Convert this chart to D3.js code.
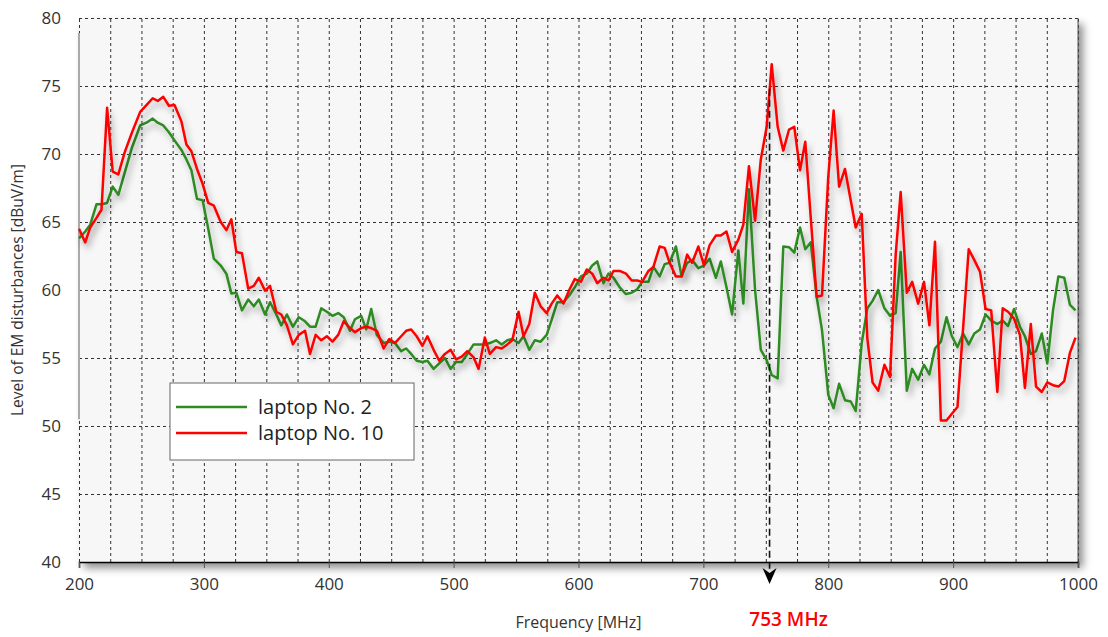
<!DOCTYPE html>
<html>
<head>
<meta charset="utf-8">
<script src="https://cdn.jsdelivr.net/npm/d3@7"></script>
<style>
  body { margin: 0; background: #fff; }
  svg { display: block; font-family: "Open Sans", "Noto Sans", sans-serif; }
</style>
</head>
<body>
<svg class="em-chart"></svg>
<script>
'use strict';

// measured frequencies (MHz), shared by both laptops
var freqs = [200, 205, 209, 214, 218, 222.5, 227, 231.5, 236.5, 242.5, 249, 254, 259, 263, 267.5, 272, 276.5, 282, 286, 290,
    294.5, 299, 303.5, 308, 313.5, 318, 322, 326, 330.5, 335.5, 340, 344, 349, 353, 358, 362, 366.5, 371.3, 376, 381,
    385, 389.5, 394, 398.5, 403, 407.6, 412, 417, 421, 426, 430, 434, 438.5, 444, 448.5, 453, 458, 462, 466, 470.4,
    475, 479, 484, 488.5, 493, 497.6, 502, 506.5, 511, 516, 520, 525, 529, 534, 538.5, 543, 547, 552, 556, 560.6,
    565, 569.7, 574.5, 578.5, 583, 588, 592.6, 597, 602, 606.6, 611, 615, 620, 624, 628, 633, 638, 642.6, 647, 651,
    656, 660, 665, 669, 673, 678, 682.6, 687, 691, 696, 700.5, 705, 710, 714, 718.5, 723, 728, 732, 736.5, 741.4,
    746, 750.7, 754.7, 759.5, 764, 768.6, 772.8, 777.4, 781.6, 786, 790.7, 795, 800, 804.3, 808.7, 813.4, 818, 822, 826.8, 831.3,
    835.5, 840, 845, 849.5, 854, 858, 862.9, 867.2, 872, 876.7, 881, 885.5, 890.2, 894.7, 899, 903.5, 908, 912.5, 917, 921.5,
    926, 930.5, 935.4, 939.7, 944, 948.8, 953.5, 957.5, 962.2, 966.4, 971, 975.4, 980, 984.3, 989, 993.6, 998];

var laptop2 = [63.8, 64.3, 64.8, 66.3, 66.3, 66.4, 67.6, 67.0, 68.6, 70.5, 72.1, 72.3, 72.6, 72.3, 72.1, 71.6, 71.0, 70.3, 69.6, 68.8,
    66.7, 66.6, 64.5, 62.3, 61.8, 61.2, 59.75, 59.8, 58.5, 59.3, 58.8, 59.3, 58.2, 59.1, 58.2, 57.4, 58.2, 57.3, 58.0, 57.7,
    57.3, 57.3, 58.65, 58.4, 58.1, 58.3, 58.0, 57.0, 57.85, 58.1, 57.1, 58.6, 56.7, 56.1, 56.2, 56.1, 55.5, 55.7, 55.3, 54.8,
    54.7, 54.8, 54.2, 54.6, 55.0, 54.2, 54.7, 54.7, 55.3, 56.0, 56.0, 56.0, 56.1, 56.3, 56.0, 56.3, 56.4, 56.1, 56.6, 55.6,
    56.3, 56.2, 56.7, 57.8, 59.1, 59.1, 59.6, 60.2, 61.0, 61.2, 61.8, 62.1, 60.5, 61.2, 60.9, 60.2, 59.7, 59.8, 60.05, 60.6,
    60.6, 61.7, 61.0, 61.9, 62.0, 63.2, 61.0, 62.0, 62.2, 61.6, 61.8, 62.3, 60.9, 62.1, 60.2, 58.2, 62.9, 59.0, 67.4, 60.0,
    55.6, 54.85, 53.75, 53.5, 63.2, 63.15, 62.75, 64.6, 63.0, 63.5, 59.5, 57.05, 52.3, 51.3, 53.1, 51.9, 51.8, 51.1, 56.1, 58.65,
    59.2, 60.0, 58.65, 58.1, 58.3, 62.8, 52.6, 54.2, 53.4, 54.5, 53.8, 55.7, 56.2, 58.0, 56.6, 55.8, 56.8, 56.0, 56.8, 57.1,
    58.2, 57.75, 57.5, 57.75, 57.35, 58.6, 57.3, 56.6, 55.3, 55.5, 56.8, 54.6, 58.5, 61.0, 60.9, 58.9, 58.5];

var laptop10 = [64.5, 63.5, 64.6, 65.3, 65.9, 73.4, 68.7, 68.5, 70.1, 71.6, 73.1, 73.6, 74.1, 73.9, 74.2, 73.55, 73.6, 72.4, 70.7, 70.2,
    68.9, 67.8, 66.4, 66.2, 65.0, 64.4, 65.2, 62.8, 62.7, 60.1, 60.3, 60.9, 59.95, 60.3, 58.4, 58.2, 57.4, 56.0, 56.7, 57.0,
    55.3, 56.7, 56.3, 56.6, 56.2, 56.7, 57.7, 57.2, 56.9, 57.2, 57.3, 57.2, 57.0, 55.7, 56.4, 56.1, 56.6, 57.0, 57.1, 56.6,
    55.9, 56.6, 55.6, 54.8, 55.3, 55.6, 54.9, 55.1, 55.5, 55.05, 54.2, 56.5, 55.3, 55.8, 55.7, 56.0, 56.3, 58.4, 56.6, 57.5,
    59.8, 58.8, 58.3, 59.0, 59.6, 59.0, 60.0, 60.8, 60.6, 61.5, 61.2, 60.5, 60.9, 60.7, 61.4, 61.4, 61.2, 60.7, 60.7, 60.6,
    61.4, 61.7, 63.2, 63.1, 62.0, 61.0, 61.0, 62.6, 62.0, 63.2, 61.8, 63.3, 64.0, 64.0, 64.3, 62.8, 63.7, 64.8, 69.1, 65.1,
    69.6, 72.0, 76.6, 72.0, 70.25, 71.8, 72.0, 68.8, 70.9, 65.3, 59.5, 59.6, 68.3, 73.2, 67.6, 68.9, 66.6, 64.6, 65.6, 56.45,
    53.2, 52.6, 54.5, 53.6, 62.6, 67.2, 59.8, 60.6, 59.0, 60.6, 57.4, 63.55, 50.4, 50.4, 50.9, 51.4, 57.2, 63.0, 62.2, 61.35,
    58.6, 58.5, 52.5, 58.65, 58.4, 57.9, 56.7, 52.8, 57.5, 52.9, 52.5, 53.2, 53.0, 52.9, 53.3, 55.4, 56.5];

var xTicks = [200, 300, 400, 500, 600, 700, 800, 900, 1000];
var yTicks = [40, 45, 50, 55, 60, 65, 70, 75, 80];
var seriesNames = ['laptop No. 2', 'laptop No. 10'];
var seriesColors = ['#2e8b24', '#ff0000'];
var markerFreq = 753;

var drawChart = function() {
    var svgWidth = 1108,
        svgHeight = 637,
        margin = { top: 18, right: 30, bottom: 75, left: 79 },
        width = svgWidth - margin.left - margin.right,
        height = svgHeight - margin.top - margin.bottom;

    var svg = d3.select('svg.em-chart')
        .attr('width', svgWidth)
        .attr('height', svgHeight);

    var defs = svg.append('defs');
    var plotShadow = defs.append('filter').attr('id', 'plot-shadow')
        .attr('x', '-5%').attr('y', '-5%').attr('width', '115%').attr('height', '120%');
    plotShadow.append('feDropShadow').attr('dx', 5).attr('dy', 6).attr('stdDeviation', 4)
        .attr('flood-color', '#000').attr('flood-opacity', 0.45);
    var lineShadow = defs.append('filter').attr('id', 'line-shadow')
        .attr('x', '-5%').attr('y', '-10%').attr('width', '115%').attr('height', '130%');
    lineShadow.append('feDropShadow').attr('dx', 3).attr('dy', 5).attr('stdDeviation', 3)
        .attr('flood-color', '#000').attr('flood-opacity', 0.3);

    var xScale = d3.scaleLinear().domain([200, 1000]).range([margin.left, margin.left + width]);
    var yScale = d3.scaleLinear().domain([40, 80]).range([margin.top + height, margin.top]);

    // plot background
    svg.append('rect')
        .attr('x', xScale(200)).attr('y', yScale(80))
        .attr('width', xScale(1000) - xScale(200)).attr('height', yScale(40) - yScale(80))
        .attr('fill', '#f7f7f7')
        .attr('filter', 'url(#plot-shadow)');

    // grid
    var gridX = d3.axisBottom(xScale).tickValues(d3.range(200, 1001, 25))
        .tickSize(-(yScale(40) - yScale(80))).tickFormat('');
    svg.append('g').attr('class', 'grid-x')
        .attr('transform', 'translate(0,' + yScale(40) + ')')
        .call(gridX)
        .call(function(g) { g.select('.domain').remove(); })
        .selectAll('line')
        .attr('stroke', '#333').attr('stroke-width', 1).attr('stroke-dasharray', '3,3');

    var gridY = d3.axisLeft(yScale).tickValues(yTicks)
        .tickSize(-(xScale(1000) - xScale(200))).tickFormat('');
    svg.append('g').attr('class', 'grid-y')
        .attr('transform', 'translate(' + xScale(200) + ',0)')
        .call(gridY)
        .call(function(g) { g.select('.domain').remove(); })
        .selectAll('line')
        .attr('stroke', '#333').attr('stroke-width', 1).attr('stroke-dasharray', '3,3');

    // right edge and left artefact
    svg.append('line')
        .attr('x1', xScale(1000)).attr('x2', xScale(1000))
        .attr('y1', yScale(80)).attr('y2', yScale(40))
        .attr('stroke', '#555').attr('stroke-width', 1);
    svg.append('line')
        .attr('x1', xScale(200)).attr('x2', xScale(200))
        .attr('y1', yScale(78.9)).attr('y2', yScale(50.5))
        .attr('stroke', '#aaa').attr('stroke-width', 2);

    // x axis
    var xAxis = d3.axisBottom(xScale).tickValues(xTicks).tickSize(6).tickPadding(10)
        .tickFormat(d3.format('d'));
    var gx = svg.append('g')
        .attr('transform', 'translate(0,' + yScale(40) + ')')
        .call(xAxis);
    gx.select('.domain').attr('stroke', '#000').attr('stroke-width', 1.5);
    gx.selectAll('.tick line').attr('stroke', '#555');
    gx.selectAll('text').attr('fill', '#333').style('font-size', '17px')
        .style('font-family', '"Open Sans", sans-serif');

    // y axis
    var yAxis = d3.axisLeft(yScale).tickValues(yTicks).tickSize(0).tickPadding(18);
    var gy = svg.append('g')
        .attr('transform', 'translate(' + xScale(200) + ',0)')
        .call(yAxis);
    gy.select('.domain').remove();
    gy.selectAll('text').attr('fill', '#333').style('font-size', '17px')
        .style('font-family', '"Open Sans", sans-serif');

    svg.append('text')
        .attr('x', (xScale(200) + xScale(1000)) / 2).attr('y', 628)
        .attr('text-anchor', 'middle').attr('fill', '#333')
        .style('font-size', '16px')
        .text('Frequency [MHz]');

    svg.append('text')
        .attr('transform', 'translate(23,' + ((yScale(40) + yScale(80)) / 2) + ') rotate(-90)')
        .attr('text-anchor', 'middle').attr('fill', '#333')
        .style('font-size', '15.5px')
        .text('Level of EM disturbances [dBuV/m]');

    // series
    var line = d3.line()
        .x(function(d) { return xScale(d.f); })
        .y(function(d) { return yScale(d.v); });

    [laptop2, laptop10].forEach(function(values, i) {
        var data = freqs.map(function(f, j) { return { f: f, v: values[j] }; });
        svg.append('path')
            .attr('d', line(data))
            .attr('fill', 'none')
            .attr('stroke', seriesColors[i])
            .attr('stroke-width', 2.5)
            .attr('stroke-linejoin', 'round')
            .attr('filter', 'url(#line-shadow)');
    });

    // 753 MHz marker
    var mx = xScale(markerFreq);
    svg.append('line')
        .attr('x1', mx).attr('x2', mx)
        .attr('y1', yScale(74.8)).attr('y2', yScale(40) + 8)
        .attr('stroke', '#111').attr('stroke-width', 1.6).attr('stroke-dasharray', '7,4');
    svg.append('path')
        .attr('d', 'M' + (mx - 7) + ',' + (yScale(40) + 6) + ' L' + mx + ',' + (yScale(40) + 11) +
            ' L' + (mx + 7) + ',' + (yScale(40) + 6) + ' L' + mx + ',' + (yScale(40) + 22) + ' Z')
        .attr('fill', '#000');
    svg.append('text')
        .attr('x', mx + 19).attr('y', 626)
        .attr('text-anchor', 'middle').attr('fill', '#ff0000')
        .style('font-size', '19px').style('font-weight', 600)
        .text(markerFreq + ' MHz');

    // legend
    var legend = svg.append('g').attr('transform', 'translate(170,383)');
    legend.append('rect')
        .attr('width', 244).attr('height', 77)
        .attr('fill', '#fff').attr('stroke', '#666').attr('stroke-width', 1);
    seriesNames.forEach(function(name, i) {
        var row = legend.append('g').attr('transform', 'translate(0,' + (24 + i * 26) + ')');
        row.append('line')
            .attr('x1', 6).attr('x2', 77)
            .attr('stroke', seriesColors[i]).attr('stroke-width', 2.5);
        row.append('text')
            .attr('x', 88).attr('y', 7)
            .attr('fill', '#222')
            .style('font-size', '20px')
            .text(name);
    });
};

drawChart();
</script>
</body>
</html>
